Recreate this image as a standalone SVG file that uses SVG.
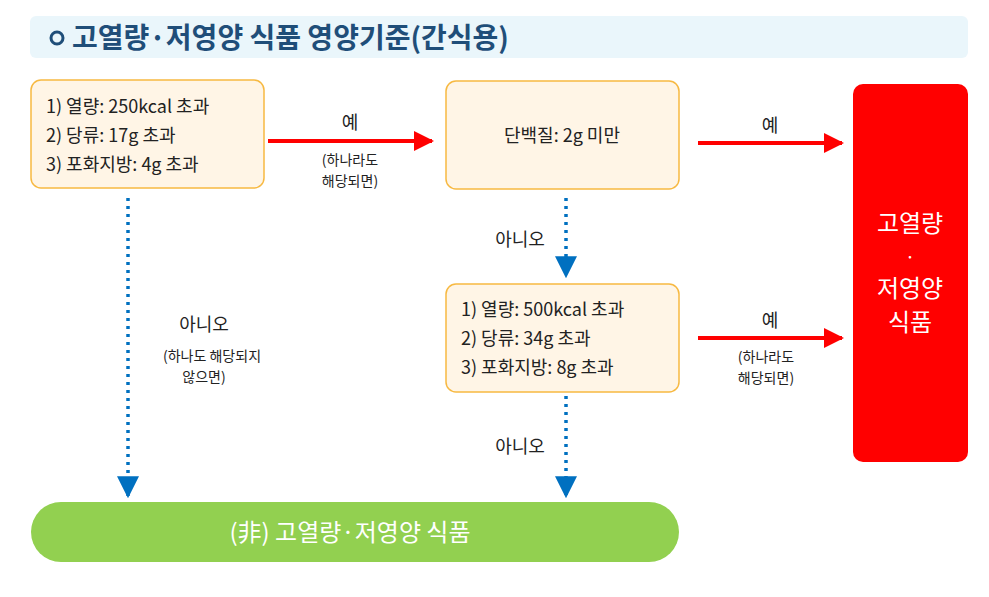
<svg xmlns="http://www.w3.org/2000/svg" width="989" height="597" viewBox="0 0 989 597">
<defs>
<marker id="ar" viewBox="0 0 10 10" refX="9" refY="5" markerWidth="20" markerHeight="20" markerUnits="userSpaceOnUse" orient="auto"><path d="M0,0L10,5L0,10z" fill="#ff0000"/></marker>
<marker id="ab" viewBox="0 0 10 10" refX="9" refY="5" markerWidth="22" markerHeight="22" markerUnits="userSpaceOnUse" orient="auto"><path d="M0,0L10,5L0,10z" fill="#0070c0"/></marker>
</defs>
<style>
text{font-family:"Noto Sans CJK KR","Noto Sans",sans-serif;fill:#222}
.n{fill:#fff5e6;stroke:#f7b942;stroke-width:1.5}
.t{font-size:18px}
.s{font-size:14px}
.r{stroke:#ff0000;stroke-width:4;fill:none;marker-end:url(#ar)}
.b{stroke:#0070c0;stroke-width:3.5;stroke-dasharray:3 5;fill:none;marker-end:url(#ab)}
</style>
<rect x="30" y="16" width="938" height="42" rx="6" fill="#eaf6fb"/>
<circle cx="57" cy="38" r="6" fill="none" stroke="#1f4e79" stroke-width="3"/>
<text x="72" y="48" font-size="28" font-weight="bold" style="fill:#1f4e79">고열량·저영양 식품 영양기준(간식용)</text>
<g id="connectors">
<path class="r" d="M268,141H432"/>
<path class="r" d="M698,143H842"/>
<path class="r" d="M698,338H842"/>
<path class="b" d="M128,198V496"/>
<path class="b" d="M566,198V276"/>
<path class="b" d="M566,396V496"/>
<text class="t" x="350" y="129" text-anchor="middle">예</text>
<text class="s" x="350" y="165" text-anchor="middle">(하나라도</text>
<text class="s" x="350" y="186" text-anchor="middle">해당되면)</text>
<text class="t" x="770" y="132" text-anchor="middle">예</text>
<text class="t" x="770" y="327" text-anchor="middle">예</text>
<text class="s" x="766" y="362" text-anchor="middle">(하나라도</text>
<text class="s" x="766" y="383" text-anchor="middle">해당되면)</text>
<text class="t" x="520" y="246" text-anchor="middle">아니오</text>
<text class="t" x="520" y="453" text-anchor="middle">아니오</text>
<text class="t" x="204" y="331" text-anchor="middle">아니오</text>
<text class="s" x="212" y="361" text-anchor="middle">(하나도 해당되지</text>
<text class="s" x="204" y="382" text-anchor="middle">않으면)</text>
</g>
<g id="n1"><rect class="n" x="31" y="80" width="233" height="108" rx="10"/>
<text class="t" x="46" y="113">1) 열량: 250kcal 초과</text>
<text class="t" x="46" y="142">2) 당류: 17g 초과</text>
<text class="t" x="46" y="171">3) 포화지방: 4g 초과</text></g>
<g id="n2"><rect class="n" x="446" y="81" width="233" height="108" rx="10"/>
<text class="t" x="562" y="142" text-anchor="middle">단백질: 2g 미만</text></g>
<g id="n3"><rect class="n" x="446" y="284" width="233" height="108" rx="10"/>
<text class="t" x="461" y="316">1) 열량: 500kcal 초과</text>
<text class="t" x="461" y="345">2) 당류: 34g 초과</text>
<text class="t" x="461" y="374">3) 포화지방: 8g 초과</text></g>
<g id="n4"><rect x="853" y="84" width="115" height="378" rx="10" fill="#ff0000"/>
<text x="910" y="232" font-size="24" text-anchor="middle" style="fill:#fff">고열량</text>
<text x="910" y="264" font-size="18" text-anchor="middle" style="fill:#fff">·</text>
<text x="910" y="297" font-size="24" text-anchor="middle" style="fill:#fff">저영양</text>
<text x="910" y="331" font-size="24" text-anchor="middle" style="fill:#fff">식품</text></g>
<g id="n5"><rect x="31" y="502" width="648" height="60" rx="30" fill="#92d050"/>
<text x="350" y="541" font-size="24" text-anchor="middle" style="fill:#fff">(非) 고열량·저영양 식품</text></g>
</svg>
